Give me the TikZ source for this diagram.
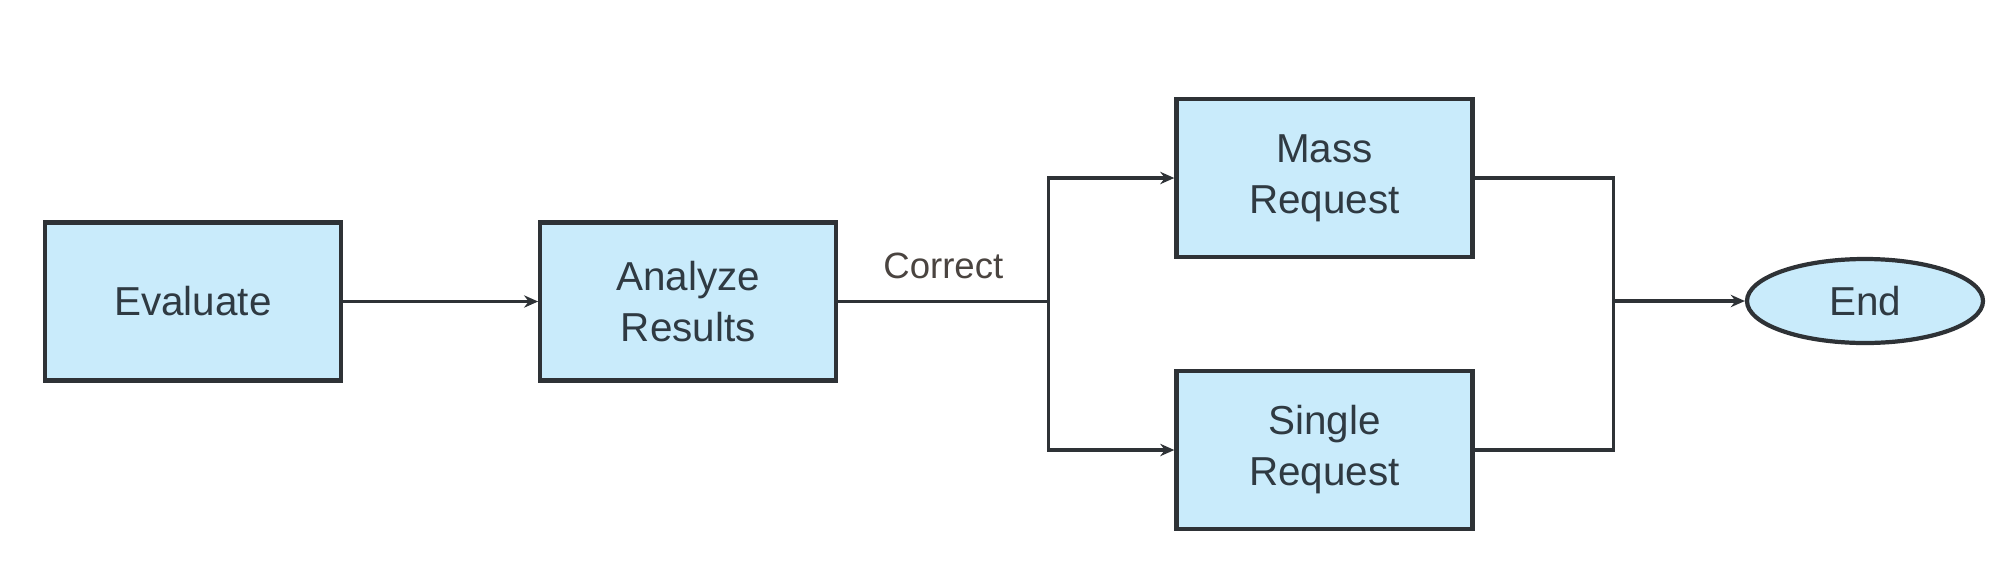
\documentclass[tikz,border=0pt]{standalone}
\usepackage{fontspec}
\setmainfont{Liberation Sans}
\usetikzlibrary{arrows.meta, positioning, calc, shapes.geometric}
\usepackage{xcolor}
\definecolor{boxfill}{HTML}{C9EBFB}
\definecolor{boxline}{HTML}{2E3236}
\definecolor{boxtext}{HTML}{2F3A42}
\definecolor{lbltext}{HTML}{4A4440}

\begin{document}
\begin{tikzpicture}[
    >={Stealth[length=4pt, width=3.5pt]},
    % --- block styles ---
    task/.style={
      draw=boxline, fill=boxfill, rectangle,
      minimum width=2.96cm, minimum height=1.58cm,
      align=center, text=boxtext, line width=1.2pt,
      font=\fontsize{11.5}{14.5}\selectfont},
    endnode/.style={
      draw=boxline, fill=boxfill, ellipse,
      minimum width=2.36cm, minimum height=0.84cm,
      text=boxtext, line width=1.2pt,
      font=\fontsize{11.5}{14.5}\selectfont},
    lbl/.style={font=\fontsize{10.4}{12}\selectfont, text=lbltext, inner sep=0pt},
    wire/.style={line width=1pt, color=boxline},
    arr/.style={wire, ->},
  ]
  \useasboundingbox (0,0) rectangle (20,5.62);

  % ── Main row ──
  \node[task] (eval) at (1.93,2.605) {Evaluate};
  \node[task, right=1.95cm of eval] (ana) {Analyze\\Results};

  % ── Parallel requests ──
  \node[task, right=3.36cm of ana, yshift=1.235cm]  (mass)   {Mass\\Request};
  \node[task, right=3.36cm of ana, yshift=-1.485cm] (single) {Single\\Request};

  \node[endnode] (end) at (18.65,2.61) {End};

  % ── Split / join points ──
  \coordinate (split) at ($(ana.east)+(2.1,0)$);
  \coordinate (join)  at ($(mass.east |- end)+(1.39,0)$);

  % ── Connectors ──
  \draw[arr] (eval) -- (ana);
  \draw[wire] (ana) -- node[lbl, above=6pt] {Correct} (split);
  \draw[arr] (split) |- (mass.west);
  \draw[arr] (split) |- (single.west);
  \draw[wire] (mass.east) -| (join);
  \draw[wire] (single.east) -| (join);
  \draw[arr] (join) -- (end);

\end{tikzpicture}
\end{document}
